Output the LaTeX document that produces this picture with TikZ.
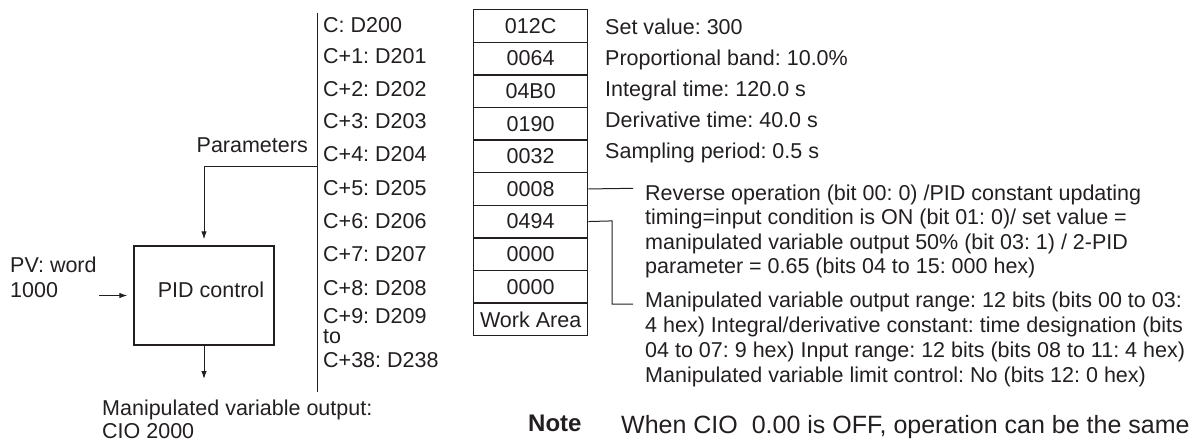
\documentclass[tikz,border=0pt]{standalone}
\usepackage{fontspec}
\setmainfont{Liberation Sans}
\usetikzlibrary{arrows.meta}
\definecolor{ink}{HTML}{231F20}
\frenchspacing
\begin{document}
\begin{tikzpicture}[x=1pt,y=-1pt,
  txt/.style={font=\fontsize{21.5}{24.5}\selectfont, inner sep=0pt, anchor=base west, text=ink},
  cell/.style={draw=ink, line width=1.3pt, minimum width=114pt, minimum height=32.6pt, inner sep=0pt,
     anchor=north west, font=\fontsize{21.5}{24.5}\selectfont, text=ink},
  pidbox/.style={draw=ink, line width=1.4pt, minimum width=140pt, minimum height=99pt, inner sep=0pt},
  conn/.style={draw=ink, line width=1pt},
  arr/.style={conn, -{Latex[length=8pt,width=5.5pt]}}]
\useasboundingbox (0,0) rectangle (1201,442);

% memory cells
\foreach \v [count=\i from 0] in {012C,0064,04B0,0190,0032,0008,0494,0000,0000,Work Area}{
  \node[cell] (c\i) at (473,{9+32.6*\i}) {\v};
}

% address labels
\node[txt] (a0) at (323,32) {C: D200};
\node[txt] (a1) at (323,63) {C+1: D201};
\node[txt] (a2) at (323,96) {C+2: D202};
\node[txt] (a3) at (323,128) {C+3: D203};
\node[txt] (a4) at (323,161) {C+4: D204};
\node[txt] (a5) at (323,195) {C+5: D205};
\node[txt] (a6) at (323,228) {C+6: D206};
\node[txt] (a7) at (323,261) {C+7: D207};
\node[txt] (a8) at (323,295) {C+8: D208};
\node[txt] (a9) at (323,323) {C+9: D209};
\node[txt] (ato) at (323,343) {to};
\node[txt] (a38) at (323,367) {C+38: D238};

% vertical bus line
\coordinate (vtop) at (317,13);
\coordinate (vbot) at (317,392);
\coordinate (pj) at (317,166);
\draw[conn] (vtop) -- (vbot);

\node[txt, anchor=base east] (params) at (308,152) {Parameters};

% PID block
\node[pidbox] (pid) at (204,295.5) {};
\node[txt, anchor=base] (pidtxt) at (211,297.5) {PID control};
\draw[arr, shorten >=6pt] (pj) -| (pid.north);

\node[txt] (pv1) at (10,272) {PV: word};
\node[txt] (pv2) at (10,297) {1000};
\coordinate (pvstart) at (99,295.5);
\draw[arr, shorten >=6pt] (pvstart) -- (pid.west);

\coordinate (outend) at (204,379);
\draw[arr] (pid.south) -- (outend);
\node[txt] (mv1) at (102,415) {Manipulated variable output:};
\node[txt] (mv2) at (102,438) {CIO 2000};

% descriptions
\node[txt] (d0) at (605,34) {Set value: 300};
\node[txt] (d1) at (605,65) {Proportional band: 10.0\%};
\node[txt] (d2) at (605,96) {Integral time: 120.0 s};
\node[txt] (d3) at (605,127) {Derivative time: 40.0 s};
\node[txt] (d4) at (605,158) {Sampling period: 0.5 s};

\coordinate (r5) at (633,188.3);
\draw[conn] (c5.east) -- (r5);
\node[txt] (e1) at (645,200) {Reverse operation (bit 00: 0) /PID constant updating};
\node[txt] (e2) at (645,224.5) {timing=input condition is ON (bit 01: 0)/ set value =};
\node[txt] (e3) at (645,249) {manipulated variable output 50\% (bit 03: 1) / 2-PID};
\node[txt] (e4) at (645,273.5) {parameter = 0.65 (bits 04 to 15: 000 hex)};

\coordinate (k1) at (612,220.9);
\coordinate (r6) at (633,304);
\draw[conn] (c6.east) -- (k1) |- (r6);
\node[txt] (f1) at (645,307) {Manipulated variable output range: 12 bits (bits 00 to 03:};
\node[txt] (f2) at (645,332) {4 hex) Integral/derivative constant: time designation (bits};
\node[txt] (f3) at (645,357) {04 to 07: 9 hex) Input range: 12 bits (bits 08 to 11: 4 hex)};
\node[txt] (f4) at (645,382) {Manipulated variable limit control: No (bits 12: 0 hex)};

% note
\node[txt, font=\fontsize{24}{28}\selectfont\bfseries] (note) at (528,431) {Note};
\node[txt, font=\fontsize{25}{29}\selectfont] (notetxt) at (621,433) {When CIO~~0.00 is OFF, operation can be the same};
\end{tikzpicture}
\end{document}
